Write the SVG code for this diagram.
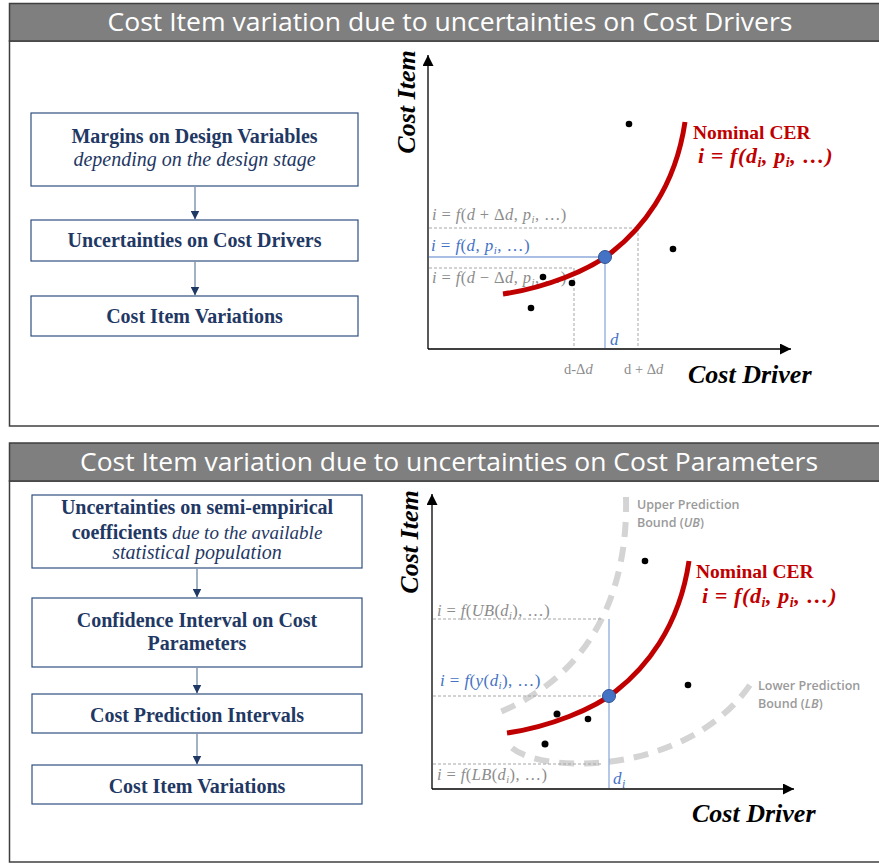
<svg xmlns="http://www.w3.org/2000/svg" width="879" height="866" viewBox="0 0 879 866">
<defs>
<marker id="flowHead" viewBox="0 0 10 10" refX="10" refY="5" markerWidth="9" markerHeight="9" markerUnits="userSpaceOnUse" orient="auto"><path d="M0,0 L10,5 L0,10 Z" fill="#1f3864"/></marker>
<marker id="axisHead" viewBox="0 0 10 10" refX="10" refY="5" markerWidth="11" markerHeight="11" markerUnits="userSpaceOnUse" orient="auto"><path d="M0,0 L10,5 L0,10 Z" fill="#000"/></marker>
<path id="cer" d="M503,294 C545,288 590,270 612,252 C640,230 675,190 685,122"/>
</defs>
<style>
.hdr{fill:#7f7f7f;stroke:#3f3f3f;stroke-width:1.5}
.body{fill:#fff;stroke:#3f3f3f;stroke-width:1.5}
.title{font-family:"Open Sans","Liberation Sans",sans-serif;font-size:26px;fill:#fff;text-anchor:middle}
.box{fill:#fff;stroke:#2f4f7f;stroke-width:1.2}
.bt{font-family:"Liberation Serif",serif;font-size:20px;font-weight:bold;fill:#1f3864;text-anchor:middle}
.it{font-style:italic;font-weight:normal}
.flow{stroke:#8497b0;stroke-width:1.5;fill:none;marker-end:url(#flowHead)}
.axis{stroke:#000;stroke-width:1.3;fill:none;marker-end:url(#axisHead)}
.axl{font-family:"Liberation Serif",serif;font-size:26px;font-weight:bold;font-style:italic;fill:#000}
.gd{stroke:#a6a6a6;stroke-width:1;stroke-dasharray:3 2;fill:none}
.bl{stroke:#8faadc;stroke-width:1.3;fill:none}
.red{stroke:#c00000;stroke-width:5;fill:none}
.pt{fill:#4472c4;stroke:#2f5597;stroke-width:1}
.dot{fill:#000}
.gl{font-family:"Liberation Serif",serif;font-size:16.5px;fill:#8c8c8c;letter-spacing:0.4px}
.blt{font-family:"Liberation Serif",serif;font-size:17px;fill:#4472c4;letter-spacing:0.4px}
.dl{font-family:"Liberation Serif",serif;font-size:14.5px;fill:#8c8c8c}
.m{font-style:italic}
.cer1{font-family:"Liberation Serif",serif;font-size:19.5px;font-weight:bold;fill:#c00000}
.cer2{font-family:"Liberation Serif",serif;font-size:22px;font-weight:bold;fill:#c00000;letter-spacing:0.6px}
.bound{stroke:#d4d4d4;stroke-width:6;stroke-dasharray:15 10;fill:none}
.bnd{font-family:"Open Sans","Liberation Sans",sans-serif;font-size:12.5px;font-weight:600;fill:#9a9a9a}
</style>

<!-- Panel 1 -->
<g id="panel1">
<rect class="body" x="9.5" y="41" width="880" height="385"/>
<rect class="hdr" x="9.5" y="3.5" width="880" height="37.5"/>
<text class="title" x="450" y="31" textLength="685" lengthAdjust="spacingAndGlyphs">Cost Item variation due to uncertainties on Cost Drivers</text>
</g>

<!-- Panel 2 -->
<g id="panel2">
<rect class="body" x="9.5" y="481" width="880" height="381"/>
<rect class="hdr" x="9.5" y="443" width="880" height="38"/>
<text class="title" x="449" y="471" textLength="738" lengthAdjust="spacingAndGlyphs">Cost Item variation due to uncertainties on Cost Parameters</text>
</g>

<!-- Top flow nodes -->
<g id="margins">
<rect class="box" x="31" y="113" width="327" height="73"/>
<text class="bt" x="194.5" y="143">Margins on Design Variables</text>
<text class="bt it" x="194.5" y="166" font-size="19">depending on the design stage</text>
</g>
<g id="uncDrivers">
<rect class="box" x="31" y="220" width="327" height="41"/>
<text class="bt" x="194.5" y="247">Uncertainties on Cost Drivers</text>
</g>
<g id="itemVar1">
<rect class="box" x="31" y="296" width="327" height="40"/>
<text class="bt" x="194.5" y="323">Cost Item Variations</text>
</g>

<!-- Bottom flow nodes -->
<g id="uncCoeff">
<rect class="box" x="32" y="495" width="330" height="73"/>
<text class="bt" x="197" y="514">Uncertainties on semi-empirical</text>
<text class="bt" x="197" y="539">coefficients<tspan class="it" font-size="19"> due to the available</tspan></text>
<text class="bt it" x="197" y="559" font-size="19">statistical population</text>
</g>
<g id="confInt">
<rect class="box" x="32" y="598" width="330" height="69"/>
<text class="bt" x="197" y="627">Confidence Interval on Cost</text>
<text class="bt" x="197" y="650">Parameters</text>
</g>
<g id="predInt">
<rect class="box" x="32" y="694" width="330" height="39"/>
<text class="bt" x="197" y="722">Cost Prediction Intervals</text>
</g>
<g id="itemVar2">
<rect class="box" x="32" y="765" width="330" height="39"/>
<text class="bt" x="197" y="793">Cost Item Variations</text>
</g>

<!-- Connectors -->
<g id="connectors">
<line class="flow" x1="195" y1="186" x2="195" y2="219.5"/>
<line class="flow" x1="195" y1="261" x2="195" y2="295.5"/>
<line class="flow" x1="197" y1="568" x2="197" y2="597.5"/>
<line class="flow" x1="197" y1="667" x2="197" y2="693.5"/>
<line class="flow" x1="197" y1="733" x2="197" y2="764.5"/>
</g>

<!-- Top chart -->
<g id="chart1">
<line class="axis" x1="428" y1="349" x2="428" y2="55"/>
<line class="axis" x1="428" y1="349" x2="791" y2="349"/>
<text class="axl" transform="translate(415,102) rotate(-90)" text-anchor="middle">Cost Item</text>
<text class="axl" x="688" y="383">Cost Driver</text>

<line class="gd" x1="429" y1="228" x2="638" y2="228"/>
<line class="gd" x1="638" y1="228" x2="638" y2="348"/>
<line class="gd" x1="429" y1="268" x2="574" y2="268"/>
<line class="gd" x1="574" y1="268" x2="574" y2="348"/>
<line class="bl" x1="429" y1="257" x2="605" y2="257"/>
<line class="bl" x1="605" y1="257" x2="605" y2="348"/>

<text class="gl" x="432" y="220"><tspan class="m">i</tspan> = <tspan class="m">f</tspan>(<tspan class="m">d</tspan> + Δ<tspan class="m">d</tspan>, <tspan class="m">p</tspan><tspan class="m" font-size="11" dy="3">i</tspan><tspan dy="-3">, …)</tspan></text>
<text class="blt" x="431" y="251"><tspan class="m">i</tspan> = <tspan class="m">f</tspan>(<tspan class="m">d</tspan>, <tspan class="m">p</tspan><tspan class="m" font-size="11" dy="3">i</tspan><tspan dy="-3">, …)</tspan></text>
<text class="gl" x="432" y="283"><tspan class="m">i</tspan> = <tspan class="m">f</tspan>(<tspan class="m">d</tspan> − Δ<tspan class="m">d</tspan>, <tspan class="m">p</tspan><tspan class="m" font-size="11" dy="3">i</tspan><tspan dy="-3">, …)</tspan></text>

<use href="#cer" class="red"/>
<circle class="pt" cx="605" cy="257" r="6.5"/>

<circle class="dot" cx="629" cy="124" r="3.3"/>
<circle class="dot" cx="673" cy="249" r="3.3"/>
<circle class="dot" cx="543" cy="277" r="3.3"/>
<circle class="dot" cx="572" cy="283" r="3.3"/>
<circle class="dot" cx="531" cy="308" r="3.3"/>

<text class="blt m" x="610" y="345" font-size="18">d</text>
<text class="dl" x="564" y="374">d-Δ<tspan class="m">d</tspan></text>
<text class="dl" x="624" y="374">d + Δ<tspan class="m">d</tspan></text>

<text class="cer1" x="693" y="139">Nominal CER</text>
<text class="cer2 m" x="698" y="163">i = f(d<tspan font-size="14" dy="4">i</tspan><tspan dy="-4">, p</tspan><tspan font-size="14" dy="4">i</tspan><tspan dy="-4">, …)</tspan></text>
</g>

<!-- Bottom chart -->
<g id="chart2">
<line class="axis" x1="432" y1="789" x2="432" y2="494"/>
<line class="axis" x1="432" y1="789" x2="794" y2="789"/>
<text class="axl" transform="translate(418,542) rotate(-90)" text-anchor="middle">Cost Item</text>
<text class="axl" x="692" y="822">Cost Driver</text>

<path class="bound" d="M626,497 C628,580 600,670 500,712"/>
<path class="bound" d="M512,748 C545,775 690,775 752,682"/>

<line class="gd" x1="433" y1="619" x2="603" y2="619"/>
<line class="gd" x1="433" y1="696" x2="609" y2="696" stroke="#8c8c8c"/>
<line class="gd" x1="433" y1="764" x2="603" y2="764"/>
<line class="bl" x1="609" y1="619" x2="609" y2="788"/>

<text class="gl" x="437" y="616" font-size="15.5"><tspan class="m">i</tspan> = <tspan class="m">f</tspan>(<tspan class="m">UB</tspan>(<tspan class="m">d</tspan><tspan class="m" font-size="10.5" dy="3">i</tspan><tspan dy="-3">), …)</tspan></text>
<text class="blt" x="440" y="686"><tspan class="m">i</tspan> = <tspan class="m">f</tspan>(<tspan class="m">y</tspan>(<tspan class="m">d</tspan><tspan class="m" font-size="11" dy="3">i</tspan><tspan dy="-3">), …)</tspan></text>
<text class="gl" x="437" y="780" font-size="15.5"><tspan class="m">i</tspan> = <tspan class="m">f</tspan>(<tspan class="m">LB</tspan>(<tspan class="m">d</tspan><tspan class="m" font-size="10.5" dy="3">i</tspan><tspan dy="-3">), …)</tspan></text>

<use href="#cer" class="red" transform="translate(4,439)"/>
<circle class="pt" cx="609" cy="696" r="6.5"/>

<circle class="dot" cx="645" cy="561" r="3.3"/>
<circle class="dot" cx="688" cy="685" r="3.3"/>
<circle class="dot" cx="557" cy="714" r="3.5"/>
<circle class="dot" cx="588" cy="719" r="3.3"/>
<circle class="dot" cx="545" cy="744" r="3.5"/>

<text class="blt m" x="613" y="784" font-size="18">d<tspan font-size="12" dy="4">i</tspan></text>

<text class="bnd" x="637" y="509">Upper Prediction</text>
<text class="bnd" x="637" y="527">Bound (<tspan font-style="italic">UB</tspan>)</text>
<text class="bnd" x="758" y="690">Lower Prediction</text>
<text class="bnd" x="758" y="708">Bound (<tspan font-style="italic">LB</tspan>)</text>

<text class="cer1" x="696" y="578">Nominal CER</text>
<text class="cer2 m" x="702" y="603">i = f(d<tspan font-size="14" dy="4">i</tspan><tspan dy="-4">, p</tspan><tspan font-size="14" dy="4">i</tspan><tspan dy="-4">, …)</tspan></text>
</g>
</svg>
